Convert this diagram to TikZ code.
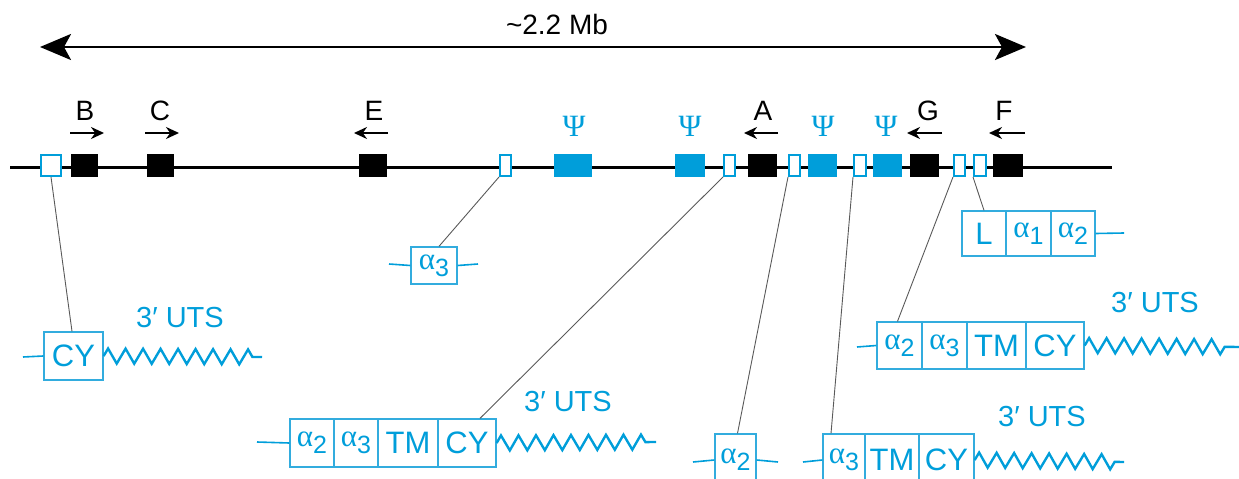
\documentclass[tikz,border=0pt]{standalone}
\usepackage{fontspec}
\setmainfont{Liberation Sans}
\newfontfamily\grk{Liberation Serif}
\usetikzlibrary{arrows.meta,decorations.pathmorphing}
\definecolor{cy}{RGB}{0,158,218}
\definecolor{cyl}{RGB}{50,172,222}
\newcommand\alsub[1]{{\grk α}\raisebox{-0.22em}{\fontsize{25}{25}\selectfont #1}}
\begin{document}
\begin{tikzpicture}[x=1pt,y=-1pt,
  blk/.style={fill=black, inner sep=0, minimum height=23pt},
  psibox/.style={fill=cy, inner sep=0, minimum height=23pt},
  openbox/.style={fill=white, draw=cy, line width=2pt, inner sep=0, minimum height=21pt},
  cell/.style={draw=cyl, line width=1.3pt, inner sep=0, text=cy, font=\fontsize{31}{31}\selectfont},
  lbl/.style={font=\fontsize{28}{28}\selectfont, inner sep=0},
  psilbl/.style={font=\grk\fontsize{31}{31}\selectfont, text=cy, inner sep=0},
  utslbl/.style={font=\fontsize{29}{29}\selectfont, text=cy, inner sep=0},
  conn/.style={draw=black!65, line width=0.9pt},
  tail/.style={draw=cy, line width=1.6pt},
  zz/.style={draw=cy, line width=2.4pt, decorate, decoration={zigzag, segment length=17.5pt, amplitude=7.5pt, post length=7pt}},
  garrow/.style={line width=2.5pt, -{Stealth[length=13pt,width=12pt]}},
  bigarrow/.style={line width=2.8pt, {Stealth[length=31pt,width=26pt,inset=7pt]}-{Stealth[length=31pt,width=26pt,inset=7pt]}}
]
\useasboundingbox (0,0) rectangle (1239,479);

% size arrow
\coordinate (T0) at (40,47);
\coordinate (T1) at (1026,47);
\draw[bigarrow] (T0) -- (T1);
\node[lbl] (size) at (557,24) {\textasciitilde 2.2 Mb};

% main line
\coordinate (L0) at (10,167);
\coordinate (L1) at (1112,167);
\draw[line width=3pt] (L0) -- (L1);

% genes
\node[openbox, minimum width=20pt] (o1) at (51,165.5) {};
\node[blk, minimum width=27pt] (B) at (84.5,165.5) {};
\node[blk, minimum width=27pt] (C) at (160.5,165.5) {};
\node[blk, minimum width=28pt] (E) at (373,165.5) {};
\node[openbox, minimum width=11pt] (o2) at (505.5,165.5) {};
\node[psibox, minimum width=38pt] (P1) at (573,165.5) {};
\node[psibox, minimum width=30pt] (P2) at (690,165.5) {};
\node[openbox, minimum width=11pt] (o3) at (729.5,165.5) {};
\node[blk, minimum width=29pt] (A) at (762.5,165.5) {};
\node[openbox, minimum width=11pt] (o4) at (794.5,165.5) {};
\node[psibox, minimum width=29pt] (P3) at (822.5,165.5) {};
\node[openbox, minimum width=12pt] (o5) at (860,165.5) {};
\node[psibox, minimum width=29pt] (P4) at (887.5,165.5) {};
\node[blk, minimum width=29pt] (G) at (924.5,165.5) {};
\node[openbox, minimum width=11pt] (o6) at (959.5,165.5) {};
\node[openbox, minimum width=12pt] (o7) at (980,165.5) {};
\node[blk, minimum width=30pt] (F) at (1008,165.5) {};

% gene labels and direction arrows
\node[lbl] (lB) at (85,111) {B};
\node[lbl] (lC) at (160,111) {C};
\node[lbl] (lE) at (374,111) {E};
\node[lbl] (lA) at (763,111) {A};
\node[lbl] (lG) at (928,111) {G};
\node[lbl] (lF) at (1004,111) {F};
\coordinate (aB0) at (70,133); \coordinate (aB1) at (104,133);
\coordinate (aC0) at (145,133); \coordinate (aC1) at (179,133);
\coordinate (aE0) at (388,133); \coordinate (aE1) at (354,133);
\coordinate (aA0) at (778,133); \coordinate (aA1) at (744,133);
\coordinate (aG0) at (942,133); \coordinate (aG1) at (907,133);
\coordinate (aF0) at (1025,133); \coordinate (aF1) at (989,133);
\draw[garrow] (aB0) -- (aB1);
\draw[garrow] (aC0) -- (aC1);
\draw[garrow] (aE0) -- (aE1);
\draw[garrow] (aA0) -- (aA1);
\draw[garrow] (aG0) -- (aG1);
\draw[garrow] (aF0) -- (aF1);
\node[psilbl] (s1) at (574,126) {Ψ};
\node[psilbl] (s2) at (690,126) {Ψ};
\node[psilbl] (s3) at (823,126) {Ψ};
\node[psilbl] (s4) at (886,126) {Ψ};

% CY protein
\node[cell, minimum width=59pt, minimum height=48pt] (c0) at (73.5,356) {CY};
\coordinate (c0t) at (23,357);
\coordinate (c0z) at (262,357);
\draw[tail] (c0t) -- (c0.west);
\draw[zz] (c0.east) -- (c0z);
\node[utslbl] (u0) at (180,318) {3′ UTS};
\draw[conn] (o1.south) -- ([xshift=-1.5pt]c0.north);

% alpha3 single
\node[cell, minimum width=46pt, minimum height=37pt] (s0) at (434,265.5) {\alsub{3}};
\coordinate (s0l) at (389,264);
\coordinate (s0r) at (478,264);
\draw[tail] (s0l) -- (s0.west);
\draw[tail] (s0.east) -- (s0r);
\draw[conn] (o2.south west) -- ([xshift=5pt]s0.north);

% L alpha1 alpha2
\node[cell, minimum width=44pt, minimum height=45pt] (l1) at (984,233.5) {L};
\node[cell, minimum width=45pt, minimum height=45pt] (l2) at (1028.5,233.5) {\alsub{1}};
\node[cell, minimum width=44pt, minimum height=45pt] (l3) at (1073,233.5) {\alsub{2}};
\coordinate (l3r) at (1124,233);
\draw[tail] (l3.east) -- (l3r);
\draw[conn] (o7.south west) -- (l1.north);

% right row
\node[cell, minimum width=45pt, minimum height=47pt] (r1) at (899.5,345.5) {\alsub{2}};
\node[cell, minimum width=45pt, minimum height=47pt] (r2) at (944.5,345.5) {\alsub{3}};
\node[cell, minimum width=59pt, minimum height=47pt] (r3) at (996.5,345.5) {TM};
\node[cell, minimum width=58pt, minimum height=47pt] (r4) at (1055,345.5) {CY};
\coordinate (r1l) at (857,347);
\coordinate (r4z) at (1240,347);
\draw[tail] (r1l) -- (r1.west);
\draw[zz] (r4.east) -- (r4z);
\node[utslbl] (u1) at (1155,303) {3′ UTS};
\draw[conn] (o6.south west) -- ([xshift=-2pt]r1.north);

% middle row
\node[cell, minimum width=44pt, minimum height=48pt] (m1) at (312,443) {\alsub{2}};
\node[cell, minimum width=44pt, minimum height=48pt] (m2) at (356,443) {\alsub{3}};
\node[cell, minimum width=60pt, minimum height=48pt] (m3) at (408,443) {TM};
\node[cell, minimum width=58pt, minimum height=48pt] (m4) at (467,443) {CY};
\coordinate (m1l) at (257,442);
\coordinate (m4z) at (656,442);
\draw[tail] (m1l) -- (m1.west);
\draw[zz] (m4.east) -- (m4z);
\node[utslbl] (u2) at (568,402) {3′ UTS};
\draw[conn] (o3.south west) -- ([xshift=13pt]m4.north);

% bottom alpha2
\node[cell, minimum width=41pt, minimum height=52pt] (b0) at (735.5,460) {\alsub{2}};
\coordinate (b0l) at (693,462);
\coordinate (b0r) at (778,462);
\draw[tail] (b0l) -- (b0.west);
\draw[tail] (b0.east) -- (b0r);
\draw[conn] (o4.south west) -- ([xshift=2pt]b0.north);

% bottom row
\node[cell, minimum width=42pt, minimum height=52pt] (b1) at (844,460) {\alsub{3}};
\node[cell, minimum width=54pt, minimum height=52pt] (b2) at (892,460) {TM};
\node[cell, minimum width=55pt, minimum height=52pt] (b3) at (946.5,460) {CY};
\coordinate (b1l) at (803,462);
\coordinate (b3z) at (1124,462);
\draw[tail] (b1l) -- (b1.west);
\draw[zz] (b3.east) -- (b3z);
\node[utslbl] (u3) at (1042,417) {3′ UTS};
\draw[conn] (o5.south west) -- ([xshift=-13pt]b1.north);
\end{tikzpicture}
\end{document}
